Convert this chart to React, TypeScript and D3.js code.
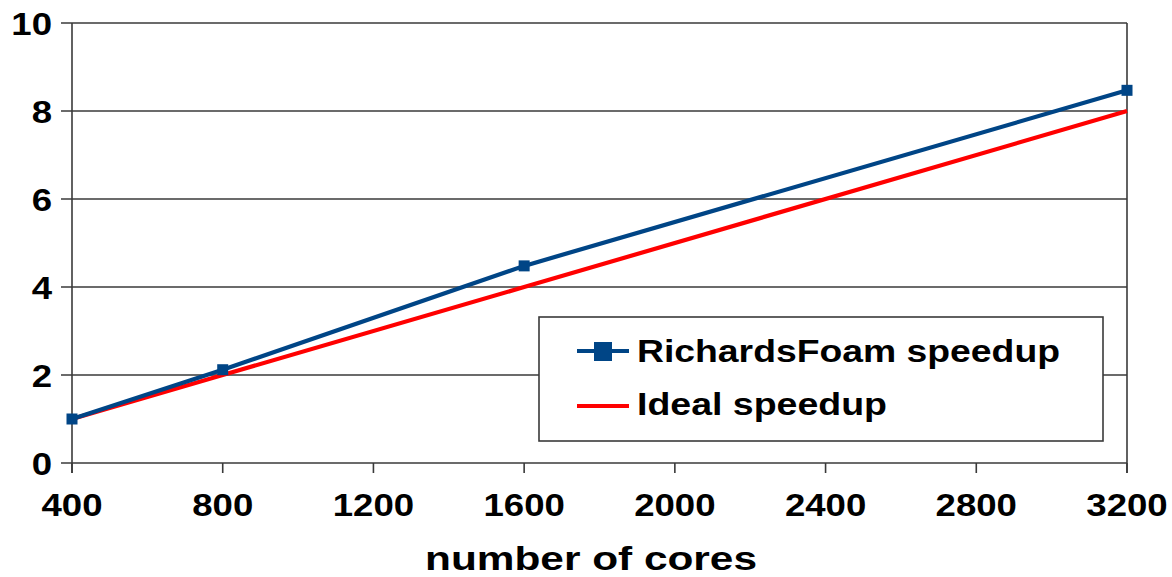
import React from "react";
import * as d3 from "d3";

const cores = [400, 800, 1600, 3200];
const richardsSpeedup = [1, 2.12, 4.48, 8.47];
const idealSpeedup = [1, 2, 4, 8];
const xTicks = [400, 800, 1200, 1600, 2000, 2400, 2800, 3200];
const yTicks = [0, 2, 4, 6, 8, 10];
const seriesNames = ["RichardsFoam speedup", "Ideal speedup"];
const xTitle = "number of cores";

const W = 1172;
const H = 577;
const M = { left: 72, right: 1127, top: 23, bottom: 463 };
const FONT = "'Liberation Sans', Arial, sans-serif";
const GRID = "#3a3a3a";
const BLUE = "#004586";
const RED = "#ff0000";

function SText(props: { x: number; y: number; size: number; anchor: string; sx?: number; children: React.ReactNode; len?: number }) {
  const { x, y, size, anchor, sx = 1.18, children, len } = props;
  return (
    <text
      transform={`translate(${x},${y}) scale(${len ? 1 : sx},1)`}
      fontFamily={FONT}
      fontWeight="bold"
      fontSize={size}
      textAnchor={anchor}
      fill="#000"
      textLength={len}
      lengthAdjust={len ? "spacingAndGlyphs" : undefined}
    >
      {children}
    </text>
  );
}

export default function App() {
  const x = d3.scaleLinear().domain([400, 3200]).range([M.left, M.right]);
  const y = d3.scaleLinear().domain([0, 10]).range([M.bottom, M.top]);
  const line = d3
    .line<number>()
    .x((_, i) => x(cores[i]))
    .y((d) => y(d));

  const legX = 539, legY = 317, legW = 564, legH = 124;

  return (
    <div style={{ position: "absolute", left: 0, top: 0 }}>
      <svg width={W} height={H} style={{ display: "block", background: "#fff" }}>
        {yTicks.map((t) => (
          <line key={"g" + t} x1={M.left - 11} x2={M.right} y1={y(t)} y2={y(t)} stroke={GRID} strokeWidth={1.6} />
        ))}
        <line x1={M.right} x2={M.right} y1={M.top} y2={M.bottom + 10} stroke={GRID} strokeWidth={1.6} />
        <line x1={M.left} x2={M.left} y1={M.top} y2={M.bottom + 10} stroke={GRID} strokeWidth={1.6} />
        {xTicks.map((t) => (
          <line key={"xt" + t} x1={x(t)} x2={x(t)} y1={M.bottom} y2={M.bottom + 10} stroke={GRID} strokeWidth={1.6} />
        ))}
        {yTicks.map((t) => (
          <SText key={"yl" + t} x={52} y={y(t) + 11.5} size={31} anchor="end">
            {String(t)}
          </SText>
        ))}
        {xTicks.map((t) => (
          <SText key={"xl" + t} x={x(t)} y={516} size={31} anchor="middle">
            {String(t)}
          </SText>
        ))}
        <SText x={425} y={570} size={33} anchor="start" len={332}>
          {xTitle}
        </SText>

        <path d={line(idealSpeedup) || ""} fill="none" stroke={RED} strokeWidth={4.2} />
        <path d={line(richardsSpeedup) || ""} fill="none" stroke={BLUE} strokeWidth={4.2} />
        {richardsSpeedup.map((v, i) => (
          <rect key={"m" + i} x={x(cores[i]) - 5.5} y={y(v) - 5.5} width={11} height={11} fill={BLUE} />
        ))}

        <rect x={legX} y={legY} width={legW} height={legH} fill="#fff" stroke={GRID} strokeWidth={1.6} />
        <line x1={577} x2={629} y1={351} y2={351} stroke={BLUE} strokeWidth={4.2} />
        <rect x={594} y={342} width={18} height={19} fill={BLUE} />
        <line x1={577} x2={629} y1={406} y2={406} stroke={RED} strokeWidth={4.2} />
        <SText x={637} y={362} size={31} anchor="start" len={423}>
          {seriesNames[0]}
        </SText>
        <SText x={637} y={415} size={31} anchor="start" len={250}>
          {seriesNames[1]}
        </SText>
      </svg>
    </div>
  );
}
